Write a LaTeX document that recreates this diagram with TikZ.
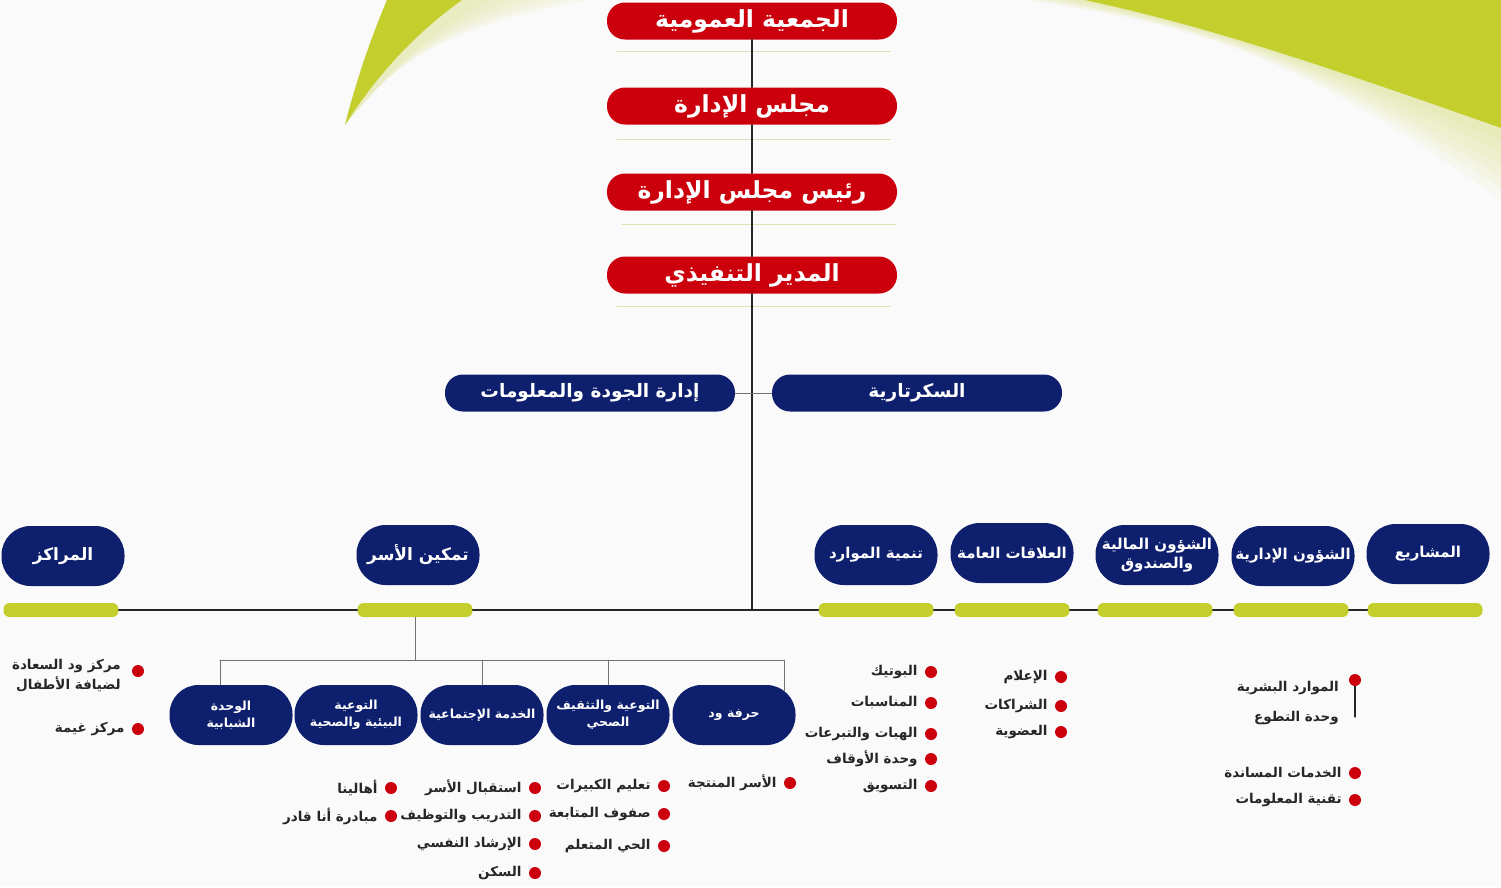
\documentclass[tikz,border=0pt]{standalone}
\usepackage{fontspec}
\usetikzlibrary{positioning}
\TeXXeTstate=1
\newfontfamily\arabicfont[Script=Arabic]{DejaVu Sans}
\newcommand{\artxt}[1]{\beginR #1\endR}
\definecolor{wadred}{RGB}{204,0,12}
\definecolor{wadblue}{RGB}{14,31,110}
\definecolor{wadgreen}{RGB}{196,207,46}
\definecolor{paleline}{RGB}{226,226,176}
\definecolor{inkgray}{RGB}{38,38,38}
\definecolor{bgwhite}{RGB}{250,250,250}
\tikzset{
  headbox/.style={fill=wadred, rounded corners=18pt, minimum width=290pt, minimum height=37pt,
    text=white, inner sep=0pt, font=\arabicfont\bfseries\fontsize{23.5}{26}\selectfont},
  staffbox/.style={headbox, fill=wadblue, font=\arabicfont\bfseries\fontsize{18.5}{22}\selectfont},
  deptbox/.style={fill=wadblue, rounded corners=29pt, minimum width=123pt, minimum height=60pt,
    text=white, align=center, inner sep=1pt, font=\arabicfont\bfseries\fontsize{15}{19}\selectfont},
  bigdept/.style={deptbox, font=\arabicfont\bfseries\fontsize{17}{20}\selectfont},
  unitbox/.style={deptbox, font=\arabicfont\bfseries\fontsize{12.5}{17}\selectfont},
  greenbar/.style={fill=wadgreen, rounded corners=6pt, minimum width=115pt, minimum height=14pt, inner sep=0pt},
  reddot/.style={circle, fill=wadred, minimum size=12pt, inner sep=0pt},
  itemtxt/.style={text=inkgray, align=right, inner sep=0pt, font=\arabicfont\bfseries\fontsize{13.5}{20}\selectfont},
  busline/.style={line width=1.6pt, black!85},
  subline/.style={line width=1pt, black!55}
}
\begin{document}
\begin{tikzpicture}[x=1pt, y=-1pt, line cap=round, line join=round]
  \useasboundingbox (0,0) rectangle (1501,887);
  \fill[bgwhite] (0,0) rectangle (1501,887);
  % green corners with a soft edge
  \foreach \k in {1,...,6}
    \fill[wadgreen, opacity=0.06] (1085-10*\k,0) .. controls (1200,25) and (1300,57) .. (1501,128+12*\k) -- (1501,0) -- cycle;
  \fill[wadgreen] (1085,0) .. controls (1200,25) and (1300,57) .. (1501,128) -- (1501,0) -- cycle;
  \foreach \k in {1,...,6}
    \fill[wadgreen, opacity=0.05] (387,0) .. controls (370,40) and (355,85) .. (345,125) .. controls (390,70) and (430,30) .. (470+20*\k,0) -- cycle;
  \fill[wadgreen] (387,0) .. controls (370,40) and (355,85) .. (345,125) .. controls (380,70) and (420,30) .. (462,0) -- cycle;
  % pale rules
  \foreach \y/\a/\b in {51/617/890, 139/617/890, 224/622/895, 306/617/890}
    \draw[paleline, line width=1pt] (\a,\y) -- (\b,\y);

  % top chain
  \node[headbox] (assembly) at (752,21) {\artxt{الجمعية العمومية}};
  \node[headbox] (board) at (752,106) {\artxt{مجلس الإدارة}};
  \node[headbox] (chair) at (752,192) {\artxt{رئيس مجلس الإدارة}};
  \node[headbox] (exec) at (752,275) {\artxt{المدير التنفيذي}};
  \node[staffbox] (quality) at (590,393) {\artxt{إدارة الجودة والمعلومات}};
  \node[staffbox] (secretary) at (917,393) {\artxt{السكرتارية}};

  % departments
  \node[bigdept] (centers) at (63,556) {\artxt{المراكز}};
  \node[bigdept] (families) at (418,555) {\artxt{تمكين الأسر}};
  \node[deptbox] (resources) at (876,555) {\artxt{تنمية الموارد}};
  \node[deptbox] (relations) at (1012,553) {\artxt{العلاقات العامة}};
  \node[deptbox] (finance) at (1157,555) {\artxt{الشؤون المالية}\\\artxt{والصندوق}};
  \node[deptbox] (admin) at (1293,556) {\artxt{الشؤون الإدارية}};
  \node[deptbox] (projects) at (1428,554) {\artxt{المشاريع}};
  \foreach \x [count=\i] in {61,415,876,1012,1155,1291,1425}
    \node[greenbar] (bar\i) at (\x,610) {};

  % units of family empowerment
  \node[unitbox] (youth) at (231,715) {\artxt{الوحدة}\\\artxt{الشبابية}};
  \node[unitbox] (environ) at (356,715) {\artxt{التوعية}\\\artxt{البيئية والصحية}};
  \node[unitbox] (social) at (482,715) {\artxt{الخدمة الإجتماعية}};
  \node[unitbox] (health) at (608,715) {\artxt{التوعية والتثقيف}\\\artxt{الصحي}};
  \node[unitbox] (craft) at (734,715) {\artxt{حرفة ود}};

  % connectors
  \draw[busline] (assembly) -- (board);
  \draw[busline] (board) -- (chair);
  \draw[busline] (chair) -- (exec);
  \coordinate (hub) at (exec.south |- bar3.west);
  \draw[busline] (exec) -- (hub);
  \draw[subline] (quality) -- (secretary);
  \foreach \i [evaluate=\i as \j using int(\i+1)] in {1,...,6}
    \draw[busline] (bar\i.east) -- (bar\j.west);
  \coordinate (forkl) at (220,660);
  \coordinate (forkr) at (784,660);
  \draw[subline] (bar2.south) -- (bar2.south |- forkl);
  \draw[subline] (forkl) -- (forkr);
  \draw[subline] (forkl) -- (forkl |- youth.north);
  \draw[subline] (social.north |- forkl) -- (social.north);
  \draw[subline] (health.north |- forkl) -- (health.north);
  \draw[subline] (forkr) -- (784,691);

  % bullet items
  \foreach \px/\py/\lbl [count=\i] in {
      138/729/مركز غيمة,
      790/783/الأسر المنتجة,
      664/786/تعليم الكبيرات, 664/814/صفوف المتابعة, 664/846/الحي المتعلم,
      535/788/استقبال الأسر, 535/816/التدريب والتوظيف, 535/844/الإرشاد النفسي, 535/873/السكن,
      391/788/أهالينا, 391/816/مبادرة أنا قادر,
      931/672/البوتيك, 931/703/المناسبات, 931/734/الهبات والتبرعات, 931/759/وحدة الأوقاف, 931/786/التسويق,
      1061/677/الإعلام, 1061/706/الشراكات, 1061/732/العضوية,
      1355/773/الخدمات المساندة, 1355/800/تقنية المعلومات}
  {
    \node[reddot] (item\i) at (\px,\py) {};
    \node[itemtxt, left=7pt of item\i] (itemtxt\i) {\artxt{\lbl}};
  }
  \node[reddot] (kids) at (138,671) {};
  \node[itemtxt, anchor=north east] (kidstxt) at (121,659) {\artxt{مركز ود السعادة}\\\artxt{لضيافة الأطفال}};
  \node[reddot] (hr) at (1355,680) {};
  \coordinate (hrend) at (1355,717);
  \draw[line width=1.2pt, inkgray] (hr) -- (hrend);
  \node[itemtxt, anchor=east] (hrtxt) at (1339,688) {\artxt{الموارد البشرية}};
  \node[itemtxt, anchor=east] (voltxt) at (1339,718) {\artxt{وحدة التطوع}};
\end{tikzpicture}
\end{document}
